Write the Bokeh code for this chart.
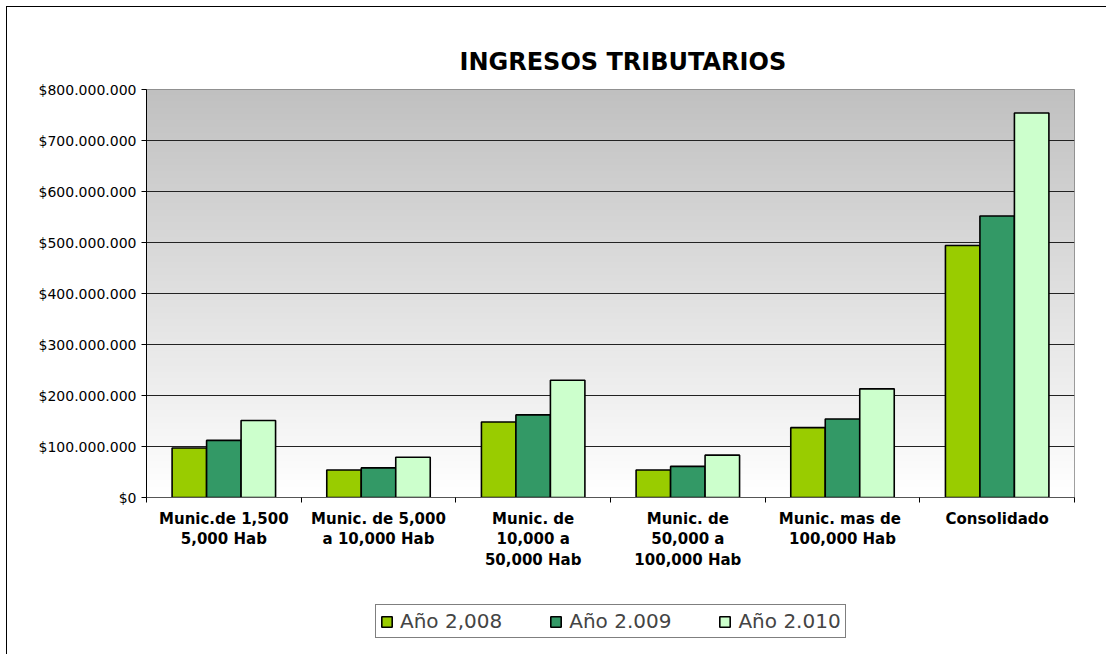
import numpy as np
from bokeh.plotting import figure
from bokeh.layouts import column
from bokeh.models import Range1d, FixedTicker, Legend, LegendItem
from bokeh.embed import file_html
from bokeh.resources import INLINE

categories = [
    "Munic.de 1,500\n5,000 Hab",
    "Munic. de 5,000\na 10,000 Hab",
    "Munic. de\n10,000 a\n50,000 Hab",
    "Munic. de\n50,000 a\n100,000 Hab",
    "Munic.  mas de\n100,000 Hab",
    "Consolidado",
]
series_names = ["Año 2,008", "Año 2.009", "Año 2.010"]
anio_2008 = [97e6, 54e6, 148e6, 54e6, 137e6, 494e6]
anio_2009 = [112e6, 58e6, 162e6, 61e6, 154e6, 552e6]
anio_2010 = [151e6, 79e6, 230e6, 83e6, 213e6, 754e6]
y_ticks = [0, 100e6, 200e6, 300e6, 400e6, 500e6, 600e6, 700e6, 800e6]
y_tick_labels = ["$0", "$100.000.000", "$200.000.000", "$300.000.000",
                 "$400.000.000", "$500.000.000", "$600.000.000",
                 "$700.000.000", "$800.000.000"]
title_text = "INGRESOS TRIBUTARIOS"

colors = ["#99CC00", "#339966", "#CCFFCC"]
series = [anio_2008, anio_2009, anio_2010]

n = len(categories)
centers = [i + 0.5 for i in range(n)]
bar_w = 0.223
offsets = [-bar_w, 0.0, bar_w]

W = 1099
p = figure(width=W, height=585, output_backend="svg", toolbar_location=None,
           x_range=Range1d(0, n), y_range=Range1d(0, y_ticks[-1]),
           min_border_left=139, min_border_right=32, min_border_top=82,
           min_border_bottom=95, title=title_text)

# background gradient
N = 256
img = np.empty((N, 2), dtype=np.uint32)
view = img.view(dtype=np.uint8).reshape((N, 2, 4))
for r in range(N):
    v = int(round(255 - (255 - 192) * r / (N - 1)))
    view[r, :, 0] = v
    view[r, :, 1] = v
    view[r, :, 2] = v
    view[r, :, 3] = 255
p.image_rgba(image=[img], x=0, y=0, dw=n, dh=y_ticks[-1], level="image")

for k in range(3):
    xs = [c + offsets[k] for c in centers]
    p.vbar(x=xs, top=series[k], width=bar_w, bottom=0,
           fill_color=colors[k], line_color="black", line_width=1.6)

# axes
p.xaxis.ticker = FixedTicker(ticks=centers, minor_ticks=list(range(n + 1)))
p.xaxis.major_label_overrides = {c: lab for c, lab in zip(centers, categories)}
p.xaxis.major_tick_out = 0
p.xaxis.major_tick_in = 0
p.xaxis.minor_tick_out = 5
p.xaxis.minor_tick_in = 0
p.xaxis.minor_tick_line_color = "black"
p.xaxis.axis_line_color = "#555555"
p.xaxis.major_label_text_font = "DejaVu Sans"
p.xaxis.major_label_text_font_style = "bold"
p.xaxis.major_label_text_font_size = "15px"
p.xaxis.major_label_text_color = "black"
p.xaxis.major_label_text_line_height = 1.15
p.xaxis.major_label_standoff = 7

p.yaxis.ticker = FixedTicker(ticks=y_ticks)
p.yaxis.major_label_overrides = {t: lab for t, lab in zip(y_ticks, y_tick_labels)}
p.yaxis.major_tick_out = 5
p.yaxis.major_tick_in = 0
p.yaxis.minor_tick_out = 0
p.yaxis.minor_tick_in = 0
p.yaxis.axis_line_color = "black"
p.yaxis.major_tick_line_color = "black"
p.yaxis.major_label_text_font = "DejaVu Sans"
p.yaxis.major_label_text_font_size = "14px"
p.yaxis.major_label_text_color = "black"
p.yaxis.major_label_standoff = 5

p.xgrid.grid_line_color = None
p.ygrid.grid_line_color = "#222222"
p.ygrid.grid_line_width = 1
p.outline_line_color = "#808080"

p.title.align = "left"
p.title.offset = 313
p.title.text_font = "DejaVu Sans"
p.title.text_font_size = "24px"
p.title.text_font_style = "bold"
p.title.text_color = "black"
p.title.standoff = 27
p.border_fill_color = "white"

# legend strip: its own small figure; its (hidden) bars only lend their
# styles to the legend swatches
lf = figure(width=W, height=62, output_backend="svg", toolbar_location=None,
            min_border=0, x_range=Range1d(0, n), y_range=Range1d(0, y_ticks[-1]))
lf.axis.visible = False
lf.grid.visible = False
lf.outline_line_color = None
lf.border_fill_color = "white"
lf.background_fill_color = "white"
leg_renderers = []
for k in range(3):
    xs = [c + offsets[k] for c in centers]
    r = lf.vbar(x=xs, top=series[k], bottom=0, width=bar_w,
                fill_color=colors[k], line_color="black", line_width=1.6)
    r.visible = False
    leg_renderers.append(r)

legend = Legend(items=[LegendItem(label=s, renderers=[r], index=0)
                       for s, r in zip(series_names, leg_renderers)],
                orientation="horizontal", location=(229, 16),
                label_text_font="DejaVu Sans", label_text_font_size="20px",
                glyph_width=13, glyph_height=13, label_standoff=7, spacing=47,
                padding=4, margin=0, border_line_color="black", border_line_width=1,
                background_fill_color="white", background_fill_alpha=1.0)
lf.add_layout(legend, "center")

layout = column(p, lf, spacing=0)
layout.styles = {"border-top": "1px solid black", "border-left": "1px solid black",
                 "margin-left": "6px", "margin-top": "6px"}

open("out.html", "w").write(file_html(layout, INLINE))
